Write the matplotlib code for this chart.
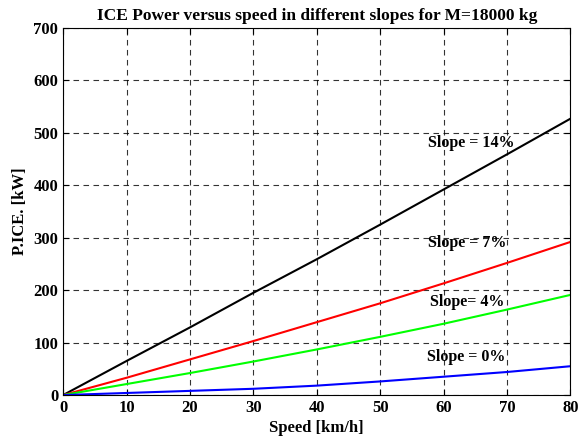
import matplotlib
matplotlib.use('Agg')
import matplotlib.pyplot as plt

# Data
speed = [0, 10, 20, 30, 40, 50, 60, 70, 80]
p_slope14 = [0, 65, 129, 195, 259, 325, 392, 459, 527]
p_slope7 = [0, 33, 68, 103, 139, 175, 213, 252, 292]
p_slope4 = [0, 21, 42, 64, 87, 111, 136, 163, 191]
p_slope0 = [0, 4, 8, 12, 18, 26, 35, 44, 55]

labels = ['Slope = 14%', 'Slope = 7%', 'Slope= 4%', 'Slope = 0%']
label_pos = [(64.3, 481), (63.8, 290), (63.8, 178), (63.6, 73)]

plt.rcParams['font.family'] = ['Liberation Serif', 'DejaVu Serif']
plt.rcParams['font.weight'] = 'bold'

fig = plt.figure(figsize=(5.79, 4.38), dpi=100)
ax = fig.add_axes([0.109, 0.098, 0.876, 0.838])

ax.plot(speed, p_slope14, color='black', lw=1.5)
ax.plot(speed, p_slope7, color='red', lw=1.5)
ax.plot(speed, p_slope4, color='#00ff00', lw=1.5)
ax.plot(speed, p_slope0, color='blue', lw=1.5)

for txt, (x, y) in zip(labels, label_pos):
    ax.text(x, y, txt, ha='center', va='center', fontsize=11.5, fontweight='bold')

ax.set_xlim(0, 80)
ax.set_ylim(0, 700)
ax.set_xticks(range(0, 81, 10))
ax.set_yticks(range(0, 701, 100))
ax.grid(True, color='black', linestyle=(0, (5, 4)), linewidth=0.8, alpha=0.8)
ax.tick_params(direction='in', top=True, right=True, labelsize=12, length=4)
for lab in ax.get_xticklabels() + ax.get_yticklabels():
    lab.set_fontweight('bold')

ax.set_xlabel('Speed [km/h]', fontsize=12, fontweight='bold', labelpad=3)
ax.set_ylabel('P.ICE. [kW]', fontsize=12, fontweight='bold', labelpad=4)
ax.set_title('ICE Power versus speed in different slopes for M=18000 kg',
             fontsize=12.5, fontweight='bold', pad=6)

fig.savefig('out.png', dpi=100)
